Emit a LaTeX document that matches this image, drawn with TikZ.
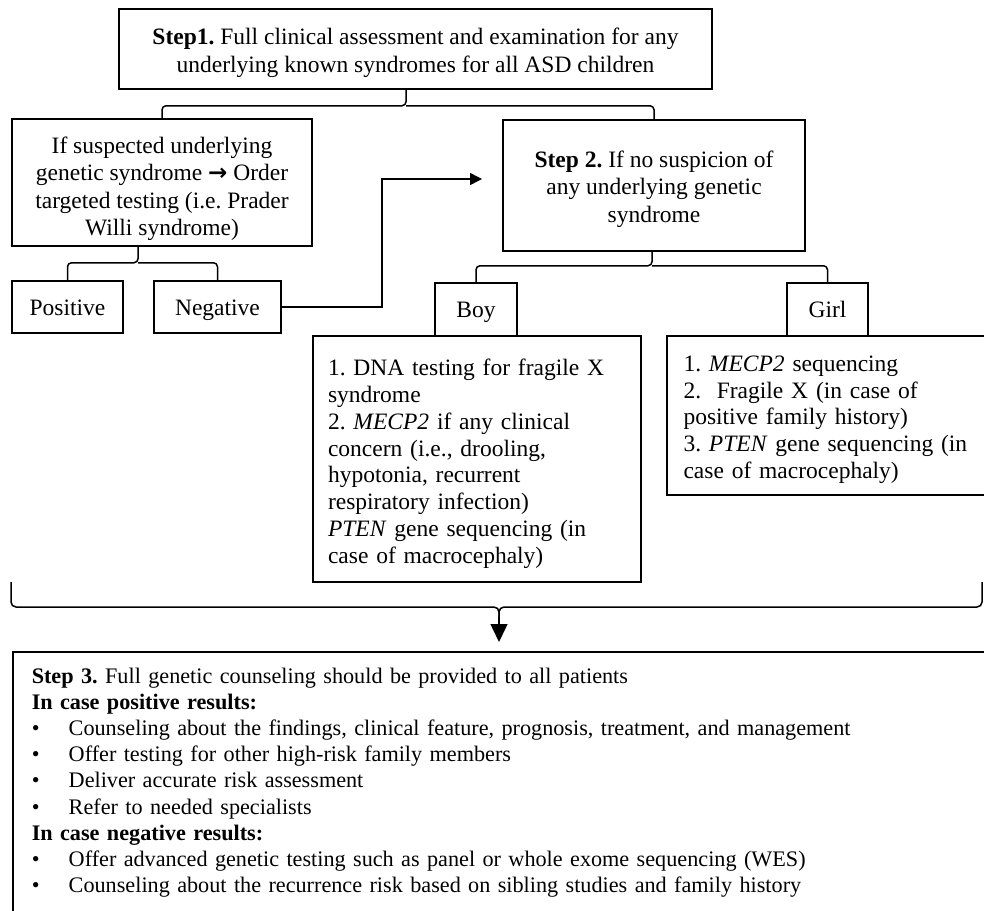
\documentclass[tikz,border=0pt]{standalone}
\usepackage{fontspec}
\setmainfont{Liberation Serif}
\newfontfamily\symfont{DejaVu Sans}
\usetikzlibrary{arrows.meta,calc}
\newcommand{\padtop}[1]{\rule{0pt}{#1}}
\frenchspacing
\begin{document}
\begin{tikzpicture}[x=1pt,y=-1pt,
  box/.style={draw, line width=1.5pt, inner sep=0pt, align=center, font=\frenchspacing\fontsize{23.5}{27.5}\selectfont},
  single/.style={box, text height=16pt, text depth=0pt},
  listbox/.style={box, align=left, font=\frenchspacing\fontsize{23.5}{26.9}\selectfont},
  conn/.style={line width=1.5pt, rounded corners=4pt},
  arr/.style={line width=1.5pt, -{Triangle[length=12pt,width=12pt]}},
  bigarr/.style={line width=1.5pt, -{Triangle[length=18pt,width=17pt]}},
]
\useasboundingbox (0,0) rectangle (984,910);
\clip (0,0) rectangle (984,910);
\fill[white] (0,0) rectangle (984,910);

% Step 1
\node[box, font=\frenchspacing\fontsize{23.5}{28}\selectfont, minimum width=593pt, minimum height=80pt] (s1) at (415.5,49)
  {\padtop{25pt}\textbf{Step1.} Full clinical assessment and examination for any\\underlying known syndromes for all ASD children};

% suspected syndrome
\node[box, minimum width=300pt, minimum height=127pt] (sus) at (162,182.5)
  {\padtop{29pt}If suspected underlying\\genetic syndrome {\symfont\bfseries\fontsize{23}{23}\selectfont →} Order\\targeted testing (i.e. Prader\\Willi syndrome)};
\node[single, minimum width=111pt, minimum height=52pt] (pos) at (67.5,307) {Positive};
\node[single, minimum width=127pt, minimum height=52pt] (neg) at (217.5,307) {Negative};

% Step 2
\node[box, minimum width=302pt, minimum height=131pt] (s2) at (654,185.5)
  {\padtop{24pt}\textbf{Step 2.} If no suspicion of\\any underlying genetic\\syndrome};
\node[single, minimum width=82pt, minimum height=53pt] (boy) at (476,309.5) {Boy};
\node[single, minimum width=81pt, minimum height=53pt] (girl) at (827.5,309.5) {Girl};

\node[listbox, text width=298pt, minimum width=328pt, minimum height=246pt] (boyt) at (477,459)
  {\padtop{26pt}1. DNA testing for fragile X\\syndrome\\2. \textit{MECP2} if any clinical\\concern (i.e., drooling,\\hypotonia, recurrent\\respiratory infection)\\\textit{PTEN} gene sequencing (in\\case of macrocephaly)};
\node[listbox, text width=300pt, minimum width=333pt, minimum height=159pt] (girlt) at (833.5,415.5)
  {\padtop{24pt}1. \textit{MECP2} sequencing\\2.\ \ Fragile X (in case of\\positive family history)\\3. \textit{PTEN} gene sequencing (in\\case of macrocephaly)};

% Step 3
\node[box, align=left, anchor=north west, text width=950pt, inner xsep=19pt, inner ysep=16pt,
      font=\frenchspacing\fontsize{22.2}{26.2}\selectfont] (s3) at (12,651)
  {\textbf{Step 3.} Full genetic counseling should be provided to all patients\\
   \textbf{In case positive results:}\\
   \makebox[37pt][l]{\textbullet}Counseling about the findings, clinical feature, prognosis, treatment, and management\\
   \makebox[37pt][l]{\textbullet}Offer testing for other high-risk family members\\
   \makebox[37pt][l]{\textbullet}Deliver accurate risk assessment\\
   \makebox[37pt][l]{\textbullet}Refer to needed specialists\\
   \textbf{In case negative results:}\\
   \makebox[37pt][l]{\textbullet}Offer advanced genetic testing such as panel or whole exome sequencing (WES)\\
   \makebox[37pt][l]{\textbullet}Counseling about the recurrence risk based on sibling studies and family history\\[30pt]
   \mbox{}};

% connectors: step 1 split
\coordinate (s1stem) at ([xshift=-9.5pt]s1.south);
\draw[conn] (sus.north) |- ($(s1stem)+(0,16)$) -- (s1stem);
\draw[conn] (s2.north) |- ($(s1stem)+(0,16)$);

% suspected split
\coordinate (susstem) at ([xshift=-24pt]sus.south);
\draw[conn] (pos.north) |- ($(susstem)+(0,16)$) -- (susstem);
\draw[conn] (neg.north) |- ($(susstem)+(0,16)$);

% step 2 split
\coordinate (s2stem) at ([xshift=-2pt]s2.south);
\draw[conn] (boy.north) |- ($(s2stem)+(0,14)$) -- (s2stem);
\draw[conn] (girl.north) |- ($(s2stem)+(0,14)$);

% negative -> step 2
\coordinate (tip) at (482,179);
\draw[arr] (neg.east) -| ($(tip)+(-100,0)$) -- (tip);

% big brace to step 3
\coordinate (bl) at (11,582);
\coordinate (br) at (982,582);
\coordinate (bm) at (499,607);
\draw[conn, rounded corners=5pt] (bl) |- (bm) -- ($(bm)+(0,12)$);
\draw[conn, rounded corners=5pt] (br) |- (bm) -- ($(bm)+(0,12)$);
\draw[bigarr, shorten >=9pt] ($(bm)+(0,10)$) -- (s3.north -| bm);
\end{tikzpicture}
\end{document}
